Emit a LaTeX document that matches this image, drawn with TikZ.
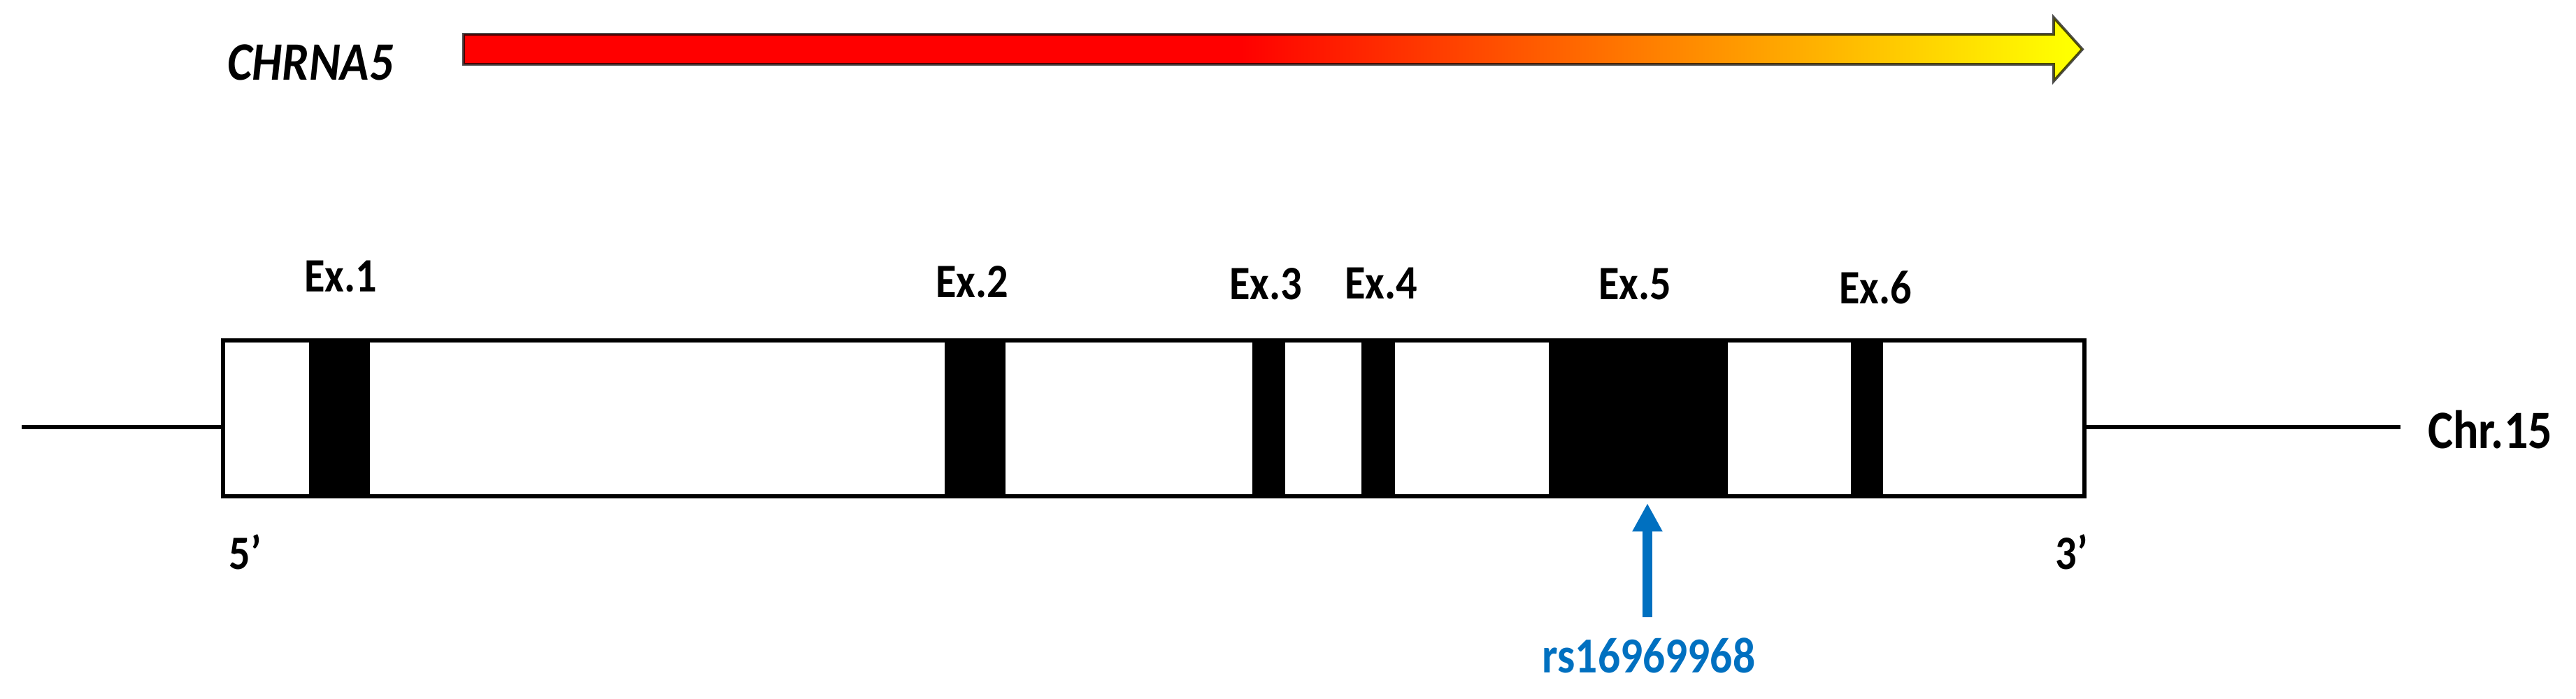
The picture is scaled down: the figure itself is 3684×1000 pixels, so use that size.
\documentclass[tikz,border=0pt]{standalone}
\usepackage{fontspec}
\newfontfamily\cb[FakeStretch=0.88]{Carlito}
\usetikzlibrary{arrows.meta}
\definecolor{snpblue}{HTML}{0070C0}
\pgfdeclarehorizontalshading{genegrad}{100bp}{color(0bp)=(red); color(25bp)=(red); color(49bp)=(red); color(74.5bp)=(yellow); color(100bp)=(yellow)}
\tikzset{
  lbl/.style={font=\cb\bfseries\fontsize{19.5}{21}\selectfont, inner sep=0pt, text=black},
  biglbl/.style={font=\cb\bfseries\fontsize{22}{24}\selectfont, inner sep=0pt, text=black},
  namelbl/.style={font=\cb\bfseries\itshape\fontsize{22}{24}\selectfont, inner sep=0pt, text=black},
  snplbl/.style={font=\cb\bfseries\fontsize{20.5}{22}\selectfont, inner sep=0pt, text=snpblue},
  genebox/.style={draw=black, fill=white, line width=1.7pt, minimum width=26.6cm, minimum height=2.23cm, inner sep=0pt, outer sep=0pt},
  exon/.style={fill=black, inner sep=0pt, outer sep=0pt, minimum height=2.29cm},
  chrline/.style={draw=black, line width=1.7pt},
  snparrow/.style={draw=snpblue, line width=4.2pt, -{Triangle[length=11.5pt,width=11.5pt]}},
  genearrow/.style={shading=genegrad, draw=black, draw opacity=0.7, line width=1.1pt, line join=miter}
}
\begin{document}
\begin{tikzpicture}[x=0.01cm,y=-0.01cm]
\useasboundingbox (0,0) rectangle (3684,1000);
\fill[white] (0,0) rectangle (3684,1000);

% gene direction arrow
\shadedraw[genearrow] (663,49) -- (2937,49) -- (2937,25) -- (2978,70.5) -- (2937,116) -- (2937,92) -- (663,92) -- cycle;
\node[namelbl] (name) at (444,89) {CHRNA5};

% chromosome
\node[genebox] (gene) at (1650,598.5) {};
\coordinate (chrL) at (31,611);
\coordinate (chrR) at (3433,611);
\draw[chrline] (chrL) -- (chrL -| gene.west);
\draw[chrline] (chrR -| gene.east) -- (chrR);
\node[biglbl] (chr) at (3561,615) {Chr.15};

% exons
\node[exon, minimum width=0.87cm] (e1) at (485.5,598.5) {};
\node[exon, minimum width=0.87cm] (e2) at (1394.5,598.5) {};
\node[exon, minimum width=0.47cm] (e3) at (1814.5,598.5) {};
\node[exon, minimum width=0.48cm] (e4) at (1971,598.5) {};
\node[exon, minimum width=2.56cm] (e5) at (2343,598.5) {};
\node[exon, minimum width=0.46cm] (e6) at (2670,598.5) {};

\node[lbl] (l1) at (487,395) {Ex.1};
\node[lbl] (l2) at (1390,403) {Ex.2};
\node[lbl] (l3) at (1810,406) {Ex.3};
\node[lbl] (l4) at (1975,405) {Ex.4};
\node[lbl] (l5) at (2338,406) {Ex.5};
\node[lbl] (l6) at (2682,411) {Ex.6};

\node[lbl] (p5) at (351,790) {5’};
\node[lbl] (p3) at (2963,790) {3’};

% SNP
\coordinate (snptail) at (2356,883);
\coordinate (snptip) at (2356,720);
\draw[snparrow] (snptail) -- (snptip);
\node[snplbl] (rs) at (2358,938) {rs16969968};
\end{tikzpicture}
\end{document}
